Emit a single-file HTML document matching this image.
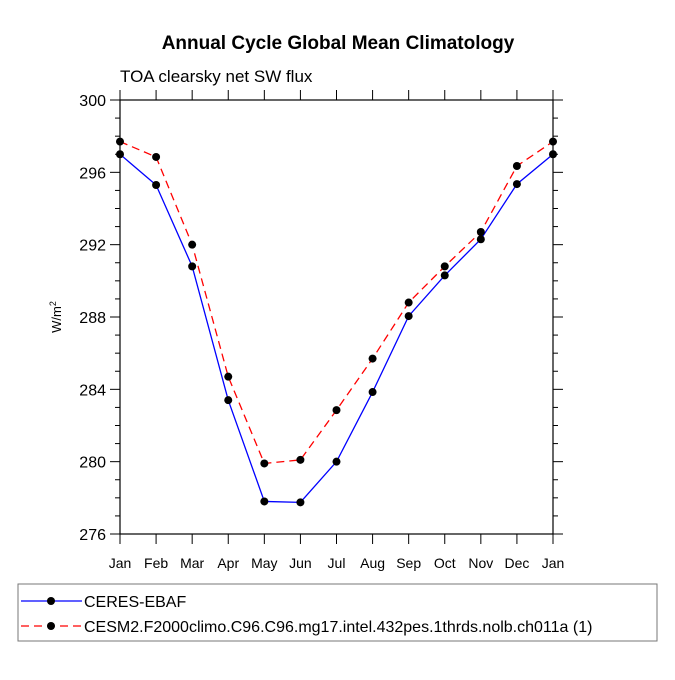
<!DOCTYPE html>
<html><head><meta charset="utf-8"><style>
body{margin:0;background:#fff;}
svg text{font-family:"Liberation Sans",Helvetica,Arial,sans-serif;fill:#000;}
</style></head><body>
<svg id="c" width="675" height="675" viewBox="0 0 675 675" xmlns="http://www.w3.org/2000/svg">
<text x="338" y="49" text-anchor="middle" font-size="19" font-weight="bold">Annual Cycle Global Mean Climatology</text>
<text x="120" y="82" font-size="17">TOA clearsky net SW flux</text>
<text transform="translate(61,317) rotate(-90)" text-anchor="middle" font-size="13">W/m<tspan font-size="9" dy="-5">2</tspan></text>
<g id="axes"></g>
<g id="series"></g>
<rect x="18" y="584" width="639" height="57" fill="none" stroke="#777" stroke-width="1"/>
<g>
<line x1="21" y1="601" x2="82" y2="601" stroke="#00f" stroke-width="1.3"/>
<circle cx="51" cy="601" r="4" fill="#000"/>
<text x="84" y="607" font-size="16">CERES-EBAF</text></g>
<g>
<line x1="21" y1="626" x2="82" y2="626" stroke="#f00" stroke-width="1.3" stroke-dasharray="8,5"/>
<circle cx="51" cy="626" r="4" fill="#000"/>
<text x="84" y="632" font-size="16">CESM2.F2000climo.C96.C96.mg17.intel.432pes.1thrds.nolb.ch011a (1)</text></g>
</svg>
<script>
const months=["Jan","Feb","Mar","Apr","May","Jun","Jul","Aug","Sep","Oct","Nov","Dec","Jan"];
const ceres=[297.0,295.3,290.8,283.4,277.8,277.75,280.0,283.85,288.05,290.3,292.3,295.35,297.0];
const cesm=[297.7,296.85,292.0,284.7,279.9,280.1,282.85,285.7,288.8,290.8,292.7,296.35,297.7];
const yTicks=[276,280,284,288,292,296,300];
const NS="http://www.w3.org/2000/svg";
const L=120,R=553,T=100,B=534,ymin=276,ymax=300;
const xs=i=>L+(R-L)*i/(months.length-1);
const ys=v=>B-(B-T)*(v-ymin)/(ymax-ymin);
function mk(tag,attrs,parent){const e=document.createElementNS(NS,tag);for(const k in attrs)e.setAttribute(k,attrs[k]);parent.appendChild(e);return e;}
const ax=document.getElementById('axes');
const frame=mk('rect',{x:L,y:T,width:R-L,height:B-T,fill:'none',stroke:'#000','stroke-width':1.2},ax);


for(let v=ymin;v<=ymax;v++){
  const major=(v-ymin)%4===0,len=major?10:5,y=ys(v);
  mk('line',{x1:L-len,y1:y,x2:L,y2:y,stroke:'#000','stroke-width':1},ax);
  mk('line',{x1:R,y1:y,x2:R+len,y2:y,stroke:'#000','stroke-width':1},ax);
}
yTicks.forEach(v=>{
  const t=mk('text',{x:L-14,y:ys(v)+6,'text-anchor':'end','font-size':16},ax);
  t.textContent=v;
  
  
});
months.forEach((m,i)=>{
  const x=xs(i);
  mk('line',{x1:x,y1:B,x2:x,y2:B+10,stroke:'#000','stroke-width':1},ax);
  mk('line',{x1:x,y1:T-10,x2:x,y2:T,stroke:'#000','stroke-width':1},ax);
  const t=mk('text',{x:x,y:B+34,'text-anchor':'middle','font-size':14},ax);
  t.textContent=m;
  
  
});
const sg=document.getElementById('series');
function series(data,color,dash,name){
  const g=mk('g',{},sg);
  
  
  const pts=data.map((v,i)=>xs(i)+','+ys(v)).join(' ');
  const pl=mk('polyline',{points:pts,fill:'none',stroke:color,'stroke-width':1.3},g);
  if(dash)pl.setAttribute('stroke-dasharray',dash);
  
  
  data.forEach((v,i)=>{
    const c=mk('circle',{cx:xs(i),cy:ys(v),r:4,fill:'#000'},g);
    
    
  });
}
series(ceres,'#00f',null,'ceres-series');
series(cesm,'#f00','8,5','cesm2-series');
</script>
</body></html>
